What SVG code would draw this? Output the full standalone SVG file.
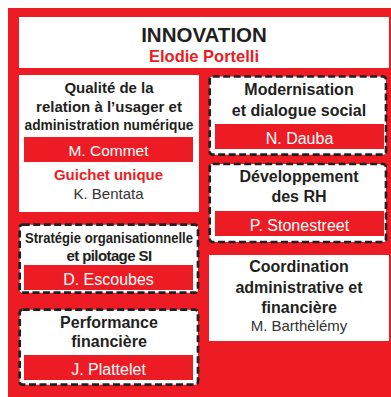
<svg xmlns="http://www.w3.org/2000/svg" width="391" height="397" viewBox="0 0 391 397">
<style>
  text { font-family: "Liberation Sans", Arial, sans-serif; text-anchor: middle; }
  .h { font-weight: bold; font-size: 15px; fill: #231f20; }
  .h16 { font-weight: bold; font-size: 16px; fill: #231f20; }
  .red { fill: #ed1c24; }
  .box { fill: #ffffff; }
  .dash { fill: #ffffff; stroke: #231f20; stroke-width: 2.7; stroke-dasharray: 7 3.5; }
  .bar { fill: #ed1c24; }
  .nm { font-size: 16px; fill: #ffffff; }
  .pn { font-size: 15px; fill: #333333; }
  .sub { font-weight: bold; font-size: 15px; fill: #ed1c24; }
</style>
<rect x="8" y="8" width="383" height="389" class="red"/>
<g id="header">
  <rect x="19" y="17" width="370" height="51" class="box"/>
  <text x="204" y="42" style="font-weight:bold;font-size:20.5px;fill:#231f20">INNOVATION</text>
  <text x="204" y="62" style="font-weight:bold;font-size:16.5px;fill:#ed1c24">Elodie Portelli</text>
</g>
<g id="qualite">
  <rect x="19" y="75" width="180" height="137" class="box"/>
  <text x="109" y="93" class="h">Qualité de la</text>
  <text x="109" y="111.5" class="h">relation à l’usager et</text>
  <text x="109" y="130" class="h" textLength="169" lengthAdjust="spacingAndGlyphs">administration numérique</text>
  <rect x="24" y="137" width="169" height="25" class="bar"/>
  <text x="108.5" y="156" class="nm" style="font-size:15.5px">M. Commet</text>
  <text x="108.5" y="179.5" class="sub">Guichet unique</text>
  <text x="108.5" y="198.5" class="pn">K. Bentata</text>
</g>
<g id="strategie">
  <rect x="19.7" y="224.7" width="178.3" height="68" rx="3" class="dash"/>
  <text x="109" y="243" class="h" textLength="168" lengthAdjust="spacingAndGlyphs">Stratégie organisationnelle</text>
  <text x="109" y="261" class="h" style="letter-spacing:-0.6px">et pilotage SI</text>
  <rect x="24" y="265" width="169" height="25" class="bar"/>
  <text x="108.5" y="285" class="nm">D. Escoubes</text>
</g>
<g id="performance">
  <rect x="19.7" y="309.7" width="178.3" height="75" rx="3" class="dash"/>
  <text x="109" y="327.5" class="h16">Performance</text>
  <text x="109" y="346.5" class="h16">financière</text>
  <rect x="24" y="355" width="169" height="25" class="bar"/>
  <text x="108.5" y="375" class="nm">J. Plattelet</text>
</g>
<g id="modernisation">
  <rect x="209.7" y="76.5" width="176.3" height="78.2" rx="3" class="dash"/>
  <text x="299" y="95" class="h16">Modernisation</text>
  <text x="299" y="115.5" class="h16">et dialogue social</text>
  <rect x="215" y="124" width="169" height="25" class="bar"/>
  <text x="299.5" y="144" class="nm">N. Dauba</text>
</g>
<g id="developpement">
  <rect x="209.7" y="164" width="176.3" height="78" rx="3" class="dash"/>
  <text x="299" y="182" class="h16">Développement</text>
  <text x="299" y="201.5" class="h16">des RH</text>
  <rect x="215" y="211" width="169" height="25" class="bar"/>
  <text x="299.5" y="231" class="nm">P. Stonestreet</text>
</g>
<g id="coordination">
  <rect x="209" y="255" width="180" height="86" class="box"/>
  <text x="299" y="271.5" class="h16">Coordination</text>
  <text x="299" y="293" class="h16">administrative et</text>
  <text x="299" y="312.5" class="h16">financière</text>
  <text x="299" y="330.5" class="pn">M. Barthèlémy</text>
</g>
<g id="connectors"/>
</svg>
